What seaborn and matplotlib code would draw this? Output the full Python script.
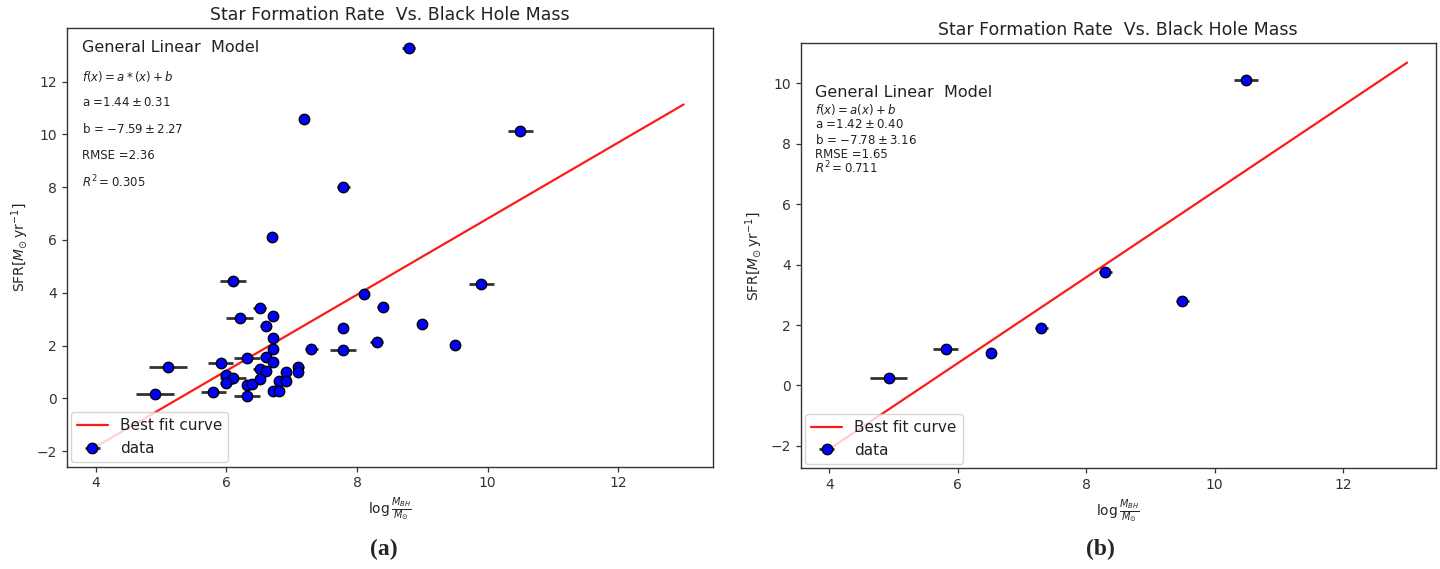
import matplotlib
matplotlib.use("Agg")
import matplotlib.pyplot as plt
import seaborn as sns
import numpy as np
import pandas as pd

# ---------------- data ----------------
# panel (a)
a_x = [6.10, 6.51, 6.71, 6.20, 6.60, 6.71, 6.71, 7.30, 6.31, 6.60, 6.71, 5.11, 5.91, 6.51, 6.60,
       6.91, 7.10, 7.10, 6.00, 6.10, 6.00, 6.31, 6.39, 6.51, 6.80, 6.91, 6.71, 6.80, 5.80, 6.31,
       4.91, 8.79, 7.19, 10.50, 7.79, 8.10, 8.39, 9.90, 7.79, 8.99, 7.79, 8.30, 9.50, 6.70]
a_y = [4.43, 3.42, 3.14, 3.05, 2.76, 2.29, 1.87, 1.87, 1.53, 1.58, 1.37, 1.18, 1.33, 1.12, 1.05,
       1.02, 1.18, 1.02, 0.90, 0.76, 0.57, 0.51, 0.55, 0.74, 0.67, 0.65, 0.29, 0.29, 0.25, 0.10,
       0.17, 13.26, 10.57, 10.12, 8.01, 3.96, 3.45, 4.34, 2.66, 2.80, 1.84, 2.13, 2.04, 6.10]
a_xerr = [0.20, 0.10, 0.08, 0.20, 0.08, 0.05, 0.05, 0.10, 0.20, 0.08, 0.05, 0.29, 0.19, 0.10, 0.05,
          0.08, 0.08, 0.05, 0.10, 0.20, 0.10, 0.05, 0.05, 0.08, 0.05, 0.05, 0.08, 0.05, 0.19, 0.20,
          0.29, 0.10, 0.05, 0.19, 0.10, 0.05, 0.08, 0.19, 0.05, 0.08, 0.20, 0.10, 0.05, 0.08]
a_fit_x = [4.0, 13.0]
a_fit_y = [-1.83, 11.13]
a_text = ["General Linear  Model", r"$f(x) = a*(x) + b$", r"a =$1.44 \pm 0.31$",
          r"b = $-7.59 \pm 2.27$", "RMSE =2.36", r"$R^2 = 0.305$"]

# panel (b)
b_x = [4.92, 5.81, 6.51, 7.30, 8.30, 9.50, 10.49]
b_y = [0.24, 1.22, 1.09, 1.91, 3.76, 2.81, 10.10]
b_xerr = [0.29, 0.20, 0.07, 0.10, 0.10, 0.10, 0.19]
b_fit_x = [4.0, 13.0]
b_fit_y = [-2.10, 10.68]
b_text = ["General Linear  Model", r"$f(x) = a(x) + b$", r"a =$1.42 \pm 0.40$",
          r"b = $-7.78 \pm 3.16$", "RMSE =1.65", r"$R^2 = 0.711$"]

title = "Star Formation Rate  Vs. Black Hole Mass"
xlabel = r"$\log\frac{M_{BH}}{M_{\odot}}$"
ylabel = r"SFR$[M_{\odot}\,\mathrm{yr}^{-1}]$"

# ---------------- style ----------------
sns.set_theme(style="ticks")
plt.rcParams["font.family"] = ["DejaVu Sans"]
plt.rcParams["mathtext.fontset"] = "dejavusans"
plt.rcParams["axes.edgecolor"] = "#333333"
plt.rcParams["axes.linewidth"] = 1.0
plt.rcParams["xtick.color"] = "#333333"
plt.rcParams["ytick.color"] = "#333333"

fig = plt.figure(figsize=(14.4, 5.69), dpi=100)
W, H = 1440, 569


def make_ax(l, r, t, b):
    return fig.add_axes([l / W, 1 - b / H, (r - l) / W, (b - t) / H])


ax_a = make_ax(66.5, 713, 28.3, 466.7)
ax_b = make_ax(800.6, 1436, 43.3, 468.3)


def draw(ax, x, y, xerr, fx, fy, texts, tx, ty, big, small):
    sns.lineplot(x=fx, y=fy, color="#ff1a1a", linewidth=1.6, label="Best fit curve", ax=ax)
    ax.errorbar(x, y, xerr=xerr, fmt="o", color="blue", mfc="blue", mec="black",
                mew=1.0, ms=7.5, ecolor="#333333", elinewidth=2, capsize=0,
                label="data", zorder=3)
    ax.set_title(title, fontsize=12.5, color="#222222")
    ax.set_xlabel(xlabel, fontsize=10)
    ax.set_ylabel(ylabel, fontsize=10)
    ax.tick_params(labelsize=10, length=3.5, width=0.9)
    ax.set_xticks([4, 6, 8, 10, 12])
    for i, (s, yy) in enumerate(zip(texts, ty)):
        ax.text(tx, yy, s, fontsize=big if i == 0 else small, va="center", ha="left",
                color="#222222")
    leg = ax.legend(loc="lower left", fontsize=11, frameon=True, fancybox=True,
                    framealpha=0.8, edgecolor="#cccccc", borderaxespad=0.3)
    for t in leg.get_texts():
        t.set_color("#222222")


draw(ax_a, a_x, a_y, a_xerr, a_fit_x, a_fit_y, a_text, 3.79,
     [13.3, 12.2, 11.2, 10.2, 9.2, 8.2], 11.5, 8.5)
draw(ax_b, b_x, b_y, b_xerr, b_fit_x, b_fit_y, b_text, 3.78,
     [9.68, 9.12, 8.62, 8.13, 7.64, 7.18], 11.5, 8.5)

ax_a.set_yticks([-2, 0, 2, 4, 6, 8, 10, 12])
ax_b.set_yticks([-2, 0, 2, 4, 6, 8, 10])

fig.text(384 / W, 1 - 549 / H, "(a)", fontsize=17, fontweight="bold",
         family="Liberation Serif", ha="center", va="center")
fig.text(1100 / W, 1 - 549 / H, "(b)", fontsize=17, fontweight="bold",
         family="Liberation Serif", ha="center", va="center")

fig.savefig("out.png", dpi=100)
